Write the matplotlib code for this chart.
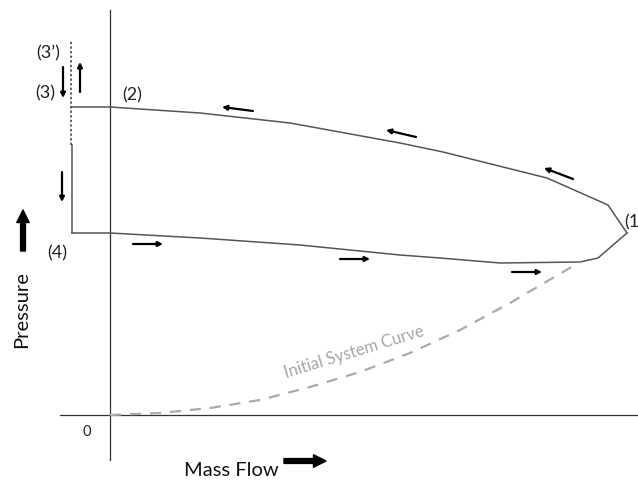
import matplotlib
matplotlib.use("Agg")
import matplotlib.pyplot as plt

plt.rcParams['font.family'] = ['Lato', 'DejaVu Sans']

# Surge cycle (schematic units: mass flow, pressure)
upper_flow = [-38, 0, 90, 180, 290, 333, 437, 498, 517]
upper_pres = [308, 308, 302, 292, 272, 263, 237, 210, 182]
lower_flow = [517, 488, 470, 390, 330, 290, 190, 90, 0, -38]
lower_pres = [182, 157, 153, 152, 157, 160, 170, 177, 182, 182]
drop_flow = [-38, -38]
drop_pres = [182, 270]
dot_flow = [-39, -39]
dot_pres = [270, 375]

sys_flow = [0, 50, 100, 150, 200, 250, 300, 350, 400, 470]
sys_pres = [0, 2, 7, 15, 28, 43, 62, 85, 112, 153]

# direction arrows: (x_start, y_start, x_end, y_end)
arrows = [
    (143, 304, 112, 308),
    (306, 278, 276, 285),
    (463, 236, 434, 247),
    (23, 171, 53, 171),
    (230, 156, 260, 156),
    (402, 143, 432, 143),
    (-48, 243, -48, 213),
    (-47, 348, -47, 317),
    (-30, 323, -30, 353),
]

labels = [("(3\u2019)", -62, 362), ("(3)", -65, 322), ("(2)", 22, 320),
          ("(4)", -53, 162)]

fig = plt.figure(figsize=(6.38, 4.83), dpi=100)
ax = fig.add_axes([0, 0, 1, 1])
ax.set_xlim(-110, 528)
ax.set_ylim(-68, 415)
ax.axis('off')

# axes
ax.plot([0, 0], [-45, 405], color='#333333', lw=0.9)
ax.plot([-50, 528], [0, 0], color='#333333', lw=0.9)

lc = '#555555'
ax.plot(upper_flow, upper_pres, color=lc, lw=1.1)
ax.plot(lower_flow, lower_pres, color=lc, lw=1.1)
ax.plot(drop_flow, drop_pres, color=lc, lw=1.1)
ax.plot(dot_flow, dot_pres, color='#333333', lw=1.1, ls=(0, (1.5, 1.5)))

ax.plot(sys_flow, sys_pres, color='#aaaaaa', lw=1.6, ls=(0, (5, 4)))
ax.text(244, 63, "Initial System Curve", color='#a6a6a6', fontsize=12,
        rotation=17, ha='center', va='center', rotation_mode='anchor')

for x0, y0, x1, y1 in arrows:
    ax.annotate("", xy=(x1, y1), xytext=(x0, y0),
                arrowprops=dict(arrowstyle='-|>', color='black', lw=1.6,
                                mutation_scale=7, shrinkA=0, shrinkB=0))

for t, x, y in labels:
    ax.text(x, y, t, fontsize=13, ha='center', va='center', color='#222222')
ax.text(514, 193, "(1", fontsize=13, ha='left', va='center', color='#222222',
        clip_on=False)

ax.text(-23, -17, "0", fontsize=10.5, ha='center', va='center', color='#222222')

ax.text(-88, 105, "Pressure", fontsize=14.5, rotation=90, ha='center',
        va='center', color='#111111')
ax.text(121, -56, "Mass Flow", fontsize=14.5, ha='center', va='center',
        color='#111111')

# big arrows
ax.annotate("", xy=(-87, 205), xytext=(-87, 164),
            arrowprops=dict(arrowstyle='simple,head_width=0.9,head_length=0.9,tail_width=0.35',
                            color='black', shrinkA=0, shrinkB=0))
ax.annotate("", xy=(216, -46), xytext=(174, -46),
            arrowprops=dict(arrowstyle='simple,head_width=0.9,head_length=0.9,tail_width=0.35',
                            color='black', shrinkA=0, shrinkB=0))

fig.savefig("out.png", dpi=100, facecolor='white')
